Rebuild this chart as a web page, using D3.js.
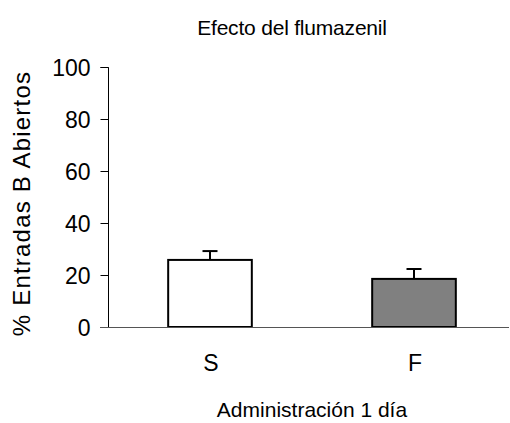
<!DOCTYPE html>
<html><head><meta charset="utf-8">
<script src="https://cdn.jsdelivr.net/npm/d3@7"></script>
<style>body{margin:0;background:#fff}svg{display:block}text{font-family:"Liberation Sans",Arial,sans-serif;fill:#000}</style>
</head><body><svg id="c" width="510" height="423"></svg>
<script>
const categories = ["S", "F"];
const means = [25.8, 18.5];
const errors = [3.4, 3.8];
const fills = ["#ffffff", "#808080"];
const yTicks = [0, 20, 40, 60, 80, 100];
const title = "Efecto del flumazenil";
const xTitle = "Administración 1 día";
const yTitle = "% Entradas B Abiertos";

const svg = d3.select("#c");
const y = d3.scaleLinear().domain([0, 100]).range([327, 67]);
const x = d3.scaleBand().domain(categories).range([108, 516]).paddingInner(0.59).paddingOuter(0.295);

// y axis
const ya = svg.append("g").attr("transform", "translate(108.5,0)")
  .call(d3.axisLeft(y).tickValues(yTicks).tickSize(8).tickPadding(10));
ya.select(".domain").attr("d", "M-8," + (y(100)+0.5) + "H0V" + (y(0)+0.5)).attr("stroke", "#000");
ya.selectAll(".tick line").attr("stroke", "#000");
ya.selectAll(".tick text").attr("font-size", 23).attr("font-family", "Liberation Sans, Arial, sans-serif").attr("fill", "#000").attr("dy", "0.36em");

// bars
svg.append("g").selectAll("rect").data(categories).join("rect")
  .attr("x", d => x(d)).attr("y", (d, i) => y(means[i]))
  .attr("width", x.bandwidth()).attr("height", (d, i) => y(0) - y(means[i]))
  .attr("fill", (d, i) => fills[i]).attr("stroke", "#000").attr("stroke-width", 2);

// error bars
const eg = svg.append("g").attr("stroke", "#000").attr("stroke-width", 2);
categories.forEach((c, i) => {
  const cx = x(c) + x.bandwidth() / 2;
  eg.append("line").attr("x1", cx).attr("x2", cx).attr("y1", y(means[i])).attr("y2", y(means[i] + errors[i]));
  eg.append("line").attr("x1", cx - 7.5).attr("x2", cx + 7.5).attr("y1", y(means[i] + errors[i])).attr("y2", y(means[i] + errors[i]));
});

// x axis line
svg.append("line").attr("x1", 100).attr("x2", 509).attr("y1", y(0) + 0.5).attr("y2", y(0) + 0.5).attr("stroke", "#555").attr("stroke-width", 1.2);

// x labels
svg.append("g").selectAll("text").data(categories).join("text")
  .attr("x", d => x(d) + x.bandwidth() / 2 + 1).attr("y", 371)
  .attr("text-anchor", "middle").attr("font-size", 23).text(d => d);

// titles
svg.append("text").attr("x", 292).attr("y", 35).attr("text-anchor", "middle")
  .attr("font-size", 21).attr("letter-spacing", -0.2).text(title);
svg.append("text").attr("x", 312).attr("y", 417).attr("text-anchor", "middle")
  .attr("font-size", 21).text(xTitle);
svg.append("text").attr("transform", "translate(30,203.5) rotate(-90)").attr("text-anchor", "middle")
  .attr("font-size", 24).attr("letter-spacing", 1.2).text(yTitle);
</script></body></html>
